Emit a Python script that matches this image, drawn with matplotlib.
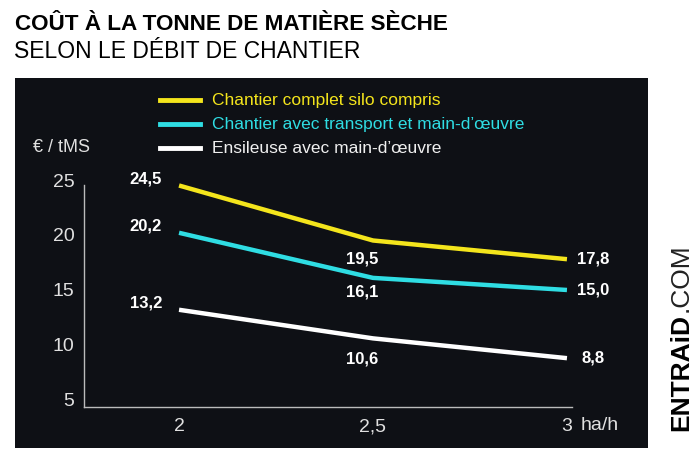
import matplotlib
matplotlib.use('Agg')
import matplotlib.pyplot as plt
from matplotlib import font_manager
from matplotlib.patches import Rectangle

# data
debit = [2, 2.5, 3]
series_names = [
    'Chantier complet silo compris',
    'Chantier avec transport et main-d\u2019\u0153uvre',
    'Ensileuse avec main-d\u2019\u0153uvre',
]
complet = [24.5, 19.5, 17.8]
transport = [20.2, 16.1, 15.0]
ensileuse = [13.2, 10.6, 8.8]
x_ticks = [2, 2.5, 3]
x_ticklabels = ['2', '2,5', '3']
y_ticks = [5, 10, 15, 20, 25]

colours = ['#f4e51c', '#2fdde3', '#ffffff']
panel_bg = '#0e1015'

names = {f.name for f in font_manager.fontManager.ttflist}
narrow = 'Liberation Sans Narrow' if 'Liberation Sans Narrow' in names else 'Liberation Sans'
plt.rcParams['font.family'] = [narrow, 'DejaVu Sans']

fig = plt.figure(figsize=(7, 4.61), dpi=100)
W, H = 700, 461


def fx(px):
    return px / W


def fy(py):
    return 1 - py / H


# black panel, behind the axes
fig.patches.append(Rectangle((fx(15), fy(448)), fx(633), 370 / H,
                             transform=fig.transFigure, facecolor=panel_bg,
                             edgecolor='none', zorder=-1))

# titles
fig.text(fx(15), fy(24), 'CO\u00dbT \u00c0 LA TONNE DE MATI\u00c8RE S\u00c8CHE',
         fontsize=16.2, fontweight='bold', color='black', va='center', ha='left')
fig.text(fx(14), fy(52), 'SELON LE D\u00c9BIT DE CHANTIER',
         fontsize=16.5, color='black', va='center', ha='left')

# side brand
fig.text(fx(681), fy(431), 'ENTRAiD', fontsize=19, fontweight='bold', rotation=90,
         color='black', ha='center', va='bottom')
fig.text(fx(681), fy(312), '.COM', fontsize=19, rotation=90,
         color='#222222', ha='center', va='bottom')

ax = fig.add_axes([fx(84), fy(407), fx(488), 227 / H])
ax.set_facecolor('none')
ax.set_xlim(1.755, 3.013)
ax.set_ylim(4.36, 25)

for vals, c in zip([complet, transport, ensileuse], colours):
    ax.plot(debit, vals, color=c, linewidth=3.2, solid_capstyle='butt', clip_on=False)

label_style = dict(color='white', fontsize=12, fontweight='bold', va='center')
for vals in [complet, transport, ensileuse]:
    ax.annotate(f'{vals[0]:.1f}'.replace('.', ','), (debit[0], vals[0]),
                xytext=(-24, 5), textcoords='offset points', ha='center', **label_style)
    ax.annotate(f'{vals[2]:.1f}'.replace('.', ','), (debit[2], vals[2]),
                xytext=(19, 0), textcoords='offset points', ha='center', **label_style)
ax.annotate(f'{complet[1]:.1f}'.replace('.', ','), (debit[1], complet[1]),
            xytext=(-8, -13), textcoords='offset points', ha='center', **label_style)
ax.annotate(f'{transport[1]:.1f}'.replace('.', ','), (debit[1], transport[1]),
            xytext=(-8, -10), textcoords='offset points', ha='center', **label_style)
ax.annotate(f'{ensileuse[1]:.1f}'.replace('.', ','), (debit[1], ensileuse[1]),
            xytext=(-8, -15), textcoords='offset points', ha='center', **label_style)

ax.set_xticks(x_ticks)
ax.set_xticklabels(x_ticklabels)
ax.set_yticks(y_ticks)
ax.tick_params(length=0, colors='#e0e0e0', labelsize=14)
ax.tick_params(axis='y', pad=7)
ax.tick_params(axis='x', pad=8)
for side in ['top', 'right']:
    ax.spines[side].set_visible(False)
for side in ['left', 'bottom']:
    ax.spines[side].set_color('#bbbbbb')
    ax.spines[side].set_linewidth(1)
ax.spines['left'].set_bounds(4.36, 24.55)

fig.text(fx(600), fy(425), 'ha/h', color='#e0e0e0', fontsize=14, ha='center', va='center')
fig.text(fx(33), fy(147), '\u20ac / tMS', color='#e0e0e0', fontsize=13, ha='left', va='center')

# legend drawn by hand
for i, (name, c) in enumerate(zip(series_names, colours)):
    yy = fy(100 + i * 24)
    fig.add_artist(plt.Line2D([fx(160), fx(200)], [yy, yy], color=c, linewidth=3.5,
                              transform=fig.transFigure))
    fig.text(fx(212), yy, name, color=c if i < 2 else '#f0f0f0', fontsize=12.5,
             ha='left', va='center')

fig.savefig('out.png', dpi=100)
